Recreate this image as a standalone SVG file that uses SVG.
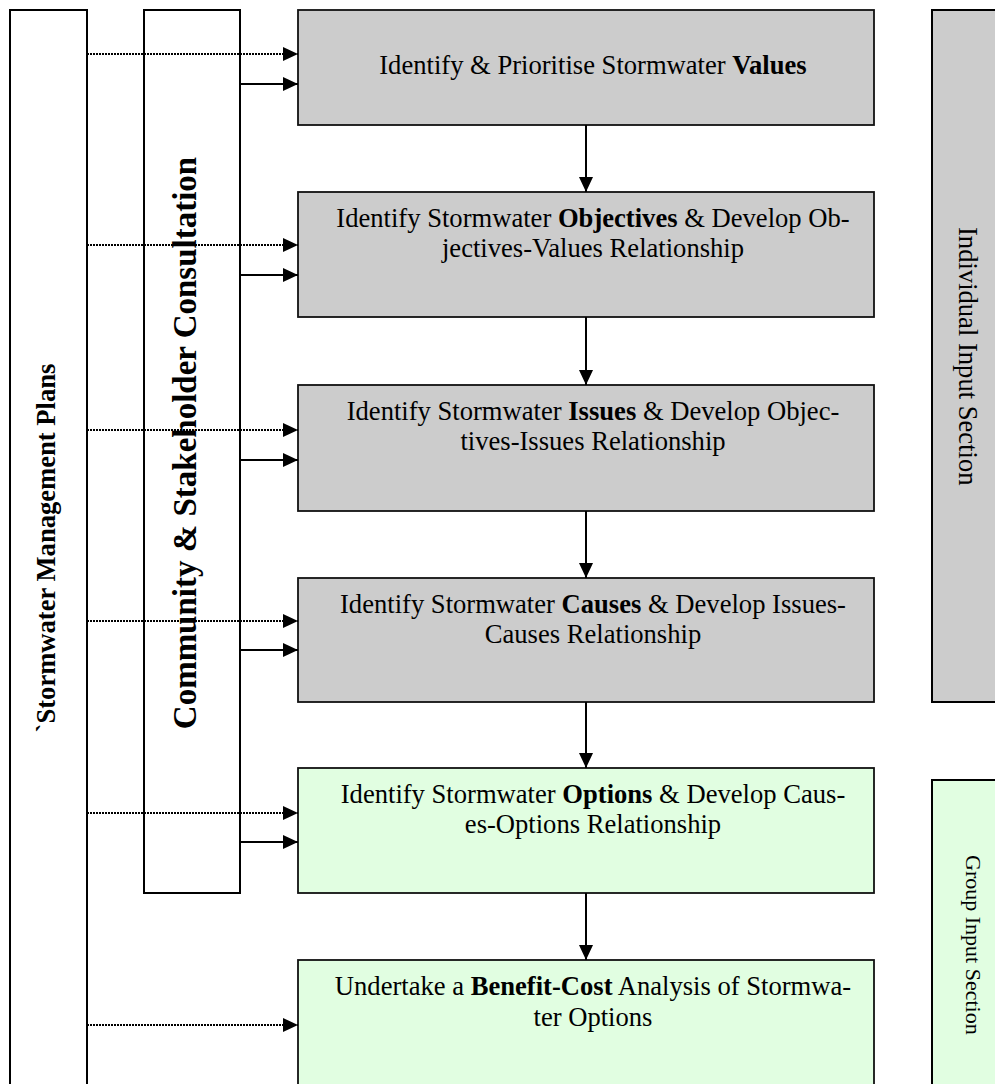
<svg xmlns="http://www.w3.org/2000/svg" width="995" height="1084" viewBox="0 0 995 1084">
<defs>
<marker id="ah" markerUnits="userSpaceOnUse" markerWidth="15" markerHeight="14" refX="15" refY="7" orient="auto">
<path d="M0,0 L15,7 L0,14 z" fill="#000"/>
</marker>
<style>
.col{fill:#fff;stroke:#000;stroke-width:2}
.gray{fill:#cccccc;stroke:#111;stroke-width:1.8}
.green{fill:#e1fee1;stroke:#111;stroke-width:1.8}
.side{stroke:#000;stroke-width:2}
.t{font-family:"Liberation Serif","Times New Roman",serif;font-size:26.6px;fill:#000}
.b{font-weight:bold}
.dot{stroke:#000;stroke-width:2.2;stroke-dasharray:2 1;fill:none}
.sol{stroke:#000;stroke-width:2;fill:none}
</style>
</defs>

<g id="smp">
<rect class="col" x="10" y="10" width="77" height="1090"/>
<text class="t b" font-size="27" text-anchor="middle" transform="translate(55,548) rotate(-90)">`Stormwater Management Plans</text>
</g>

<g id="csc">
<rect class="col" x="144" y="10" width="96" height="883"/>
<text class="t b" style="font-size:33px" text-anchor="middle" transform="translate(196,443) rotate(-90)">Community &amp; Stakeholder Consultation</text>
</g>

<g id="individual">
<rect class="gray side" x="932" y="10" width="80" height="692"/>
<text class="t" transform="translate(959,227) rotate(90)">Individual Input Section</text>
</g>

<g id="group">
<rect class="green side" x="932" y="780" width="80" height="320"/>
<text class="t" style="font-size:22px" transform="translate(966,855) rotate(90)">Group Input Section</text>
</g>

<g id="values">
<rect class="gray" x="298" y="10" width="576" height="115"/>
<text class="t" x="593" y="74" text-anchor="middle">Identify &amp; Prioritise Stormwater <tspan class="b">Values</tspan></text>
</g>

<g id="objectives">
<rect class="gray" x="298" y="192" width="576" height="125"/>
<text class="t" x="593" y="227" text-anchor="middle">Identify Stormwater <tspan class="b">Objectives</tspan> &amp; Develop Ob-</text>
<text class="t" x="593" y="257" text-anchor="middle">jectives-Values Relationship</text>
</g>

<g id="issues">
<rect class="gray" x="298" y="385" width="576" height="126"/>
<text class="t" x="593" y="420" text-anchor="middle">Identify Stormwater <tspan class="b">Issues</tspan> &amp; Develop Objec-</text>
<text class="t" x="593" y="450" text-anchor="middle">tives-Issues Relationship</text>
</g>

<g id="causes">
<rect class="gray" x="298" y="578" width="576" height="124"/>
<text class="t" x="593" y="613" text-anchor="middle">Identify Stormwater <tspan class="b">Causes</tspan> &amp; Develop Issues-</text>
<text class="t" x="593" y="643" text-anchor="middle">Causes Relationship</text>
</g>

<g id="options">
<rect class="green" x="298" y="768" width="576" height="125"/>
<text class="t" x="593" y="803" text-anchor="middle">Identify Stormwater <tspan class="b">Options</tspan> &amp; Develop Caus-</text>
<text class="t" x="593" y="833" text-anchor="middle">es-Options Relationship</text>
</g>

<g id="benefitcost">
<rect class="green" x="298" y="960" width="576" height="140"/>
<text class="t" x="593" y="995" text-anchor="middle">Undertake a <tspan class="b">Benefit-Cost</tspan> Analysis of Stormwa-</text>
<text class="t" x="593" y="1026" text-anchor="middle">ter Options</text>
</g>

<g id="connectors">
<line class="dot" x1="87" y1="54" x2="298" y2="54" marker-end="url(#ah)"/>
<line class="sol" x1="240" y1="84" x2="298" y2="84" marker-end="url(#ah)"/>
<line class="dot" x1="87" y1="245" x2="298" y2="245" marker-end="url(#ah)"/>
<line class="sol" x1="240" y1="275" x2="298" y2="275" marker-end="url(#ah)"/>
<line class="dot" x1="87" y1="430" x2="298" y2="430" marker-end="url(#ah)"/>
<line class="sol" x1="240" y1="460" x2="298" y2="460" marker-end="url(#ah)"/>
<line class="dot" x1="87" y1="621" x2="298" y2="621" marker-end="url(#ah)"/>
<line class="sol" x1="240" y1="650" x2="298" y2="650" marker-end="url(#ah)"/>
<line class="dot" x1="87" y1="813" x2="298" y2="813" marker-end="url(#ah)"/>
<line class="sol" x1="240" y1="842" x2="298" y2="842" marker-end="url(#ah)"/>
<line class="dot" x1="87" y1="1025" x2="298" y2="1025" marker-end="url(#ah)"/>
<line class="sol" x1="586" y1="125" x2="586" y2="192" marker-end="url(#ah)"/>
<line class="sol" x1="586" y1="317" x2="586" y2="385" marker-end="url(#ah)"/>
<line class="sol" x1="586" y1="511" x2="586" y2="578" marker-end="url(#ah)"/>
<line class="sol" x1="586" y1="702" x2="586" y2="768" marker-end="url(#ah)"/>
<line class="sol" x1="586" y1="893" x2="586" y2="960" marker-end="url(#ah)"/>
</g>
</svg>
